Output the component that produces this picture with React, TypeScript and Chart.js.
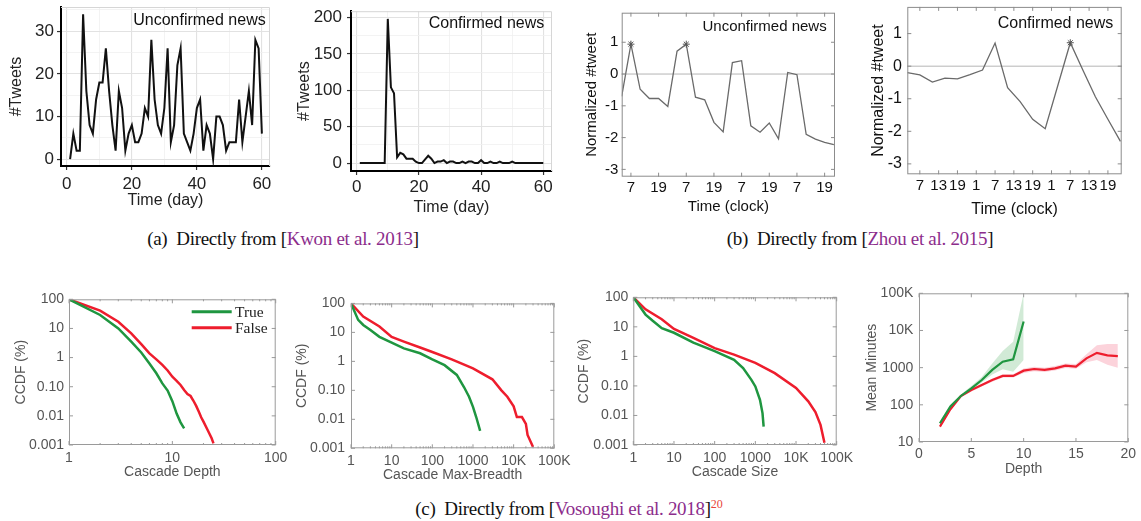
import React, { useEffect, useRef } from "react";
import { Chart, registerables } from "chart.js";

Chart.register(...registerables);

const SANS = '"Liberation Sans", Arial, Helvetica, sans-serif';
const SERIF = '"Liberation Serif", "Times New Roman", serif';

// ---------- (a) Kwon et al. 2013 ----------
const days = [1,2,3,4,5,6,7,8,9,10,11,12,13,14,15,16,17,18,19,20,21,22,23,24,25,26,27,28,29,30,31,32,33,34,35,36,37,38,39,40,41,42,43,44,45,46,47,48,49,50,51,52,53,54,55,56,57,58,59,60];
const unconfirmedTweets = [0,6,2,2,34,16,8,6,14,18,18,26,16,8,2,16,12,2,6,8,4,4,6,12,10,28,14,8,6,12,26,4,8,22,26,6,4,2,6,12,14,2,8,6,0,10,10,8,2,4,4,4,14,4,10,16,8,28,26,6];
const confirmedTweets = [0,0,0,0,0,0,0,0,0,198,104,96,8,14,12,6,6,6,2,0,0,5,10,6,0,2,2,4,0,2,2,0,0,2,0,2,2,0,0,4,0,0,2,0,0,2,0,0,0,2,0,0,0,0,0,0,0,0,0,0];
const dayTicks = [0, 20, 40, 60];
const dayMinorTicks = [10, 30, 50];
const unconfTweetTicks = [0, 10, 20, 30];
const unconfTweetMinor = [5, 15, 25, 35];
const confTweetTicks = [0, 50, 100, 150, 200];
const confTweetMinor = [25, 75, 125, 175];

// ---------- (b) Zhou et al. 2015 ----------
const unconfHours = [3,7,11,15,19,23,27,31,35,39,43,47,51,55,59,63,67,71,75,79,83,87,91,95];
const unconfNorm = [-0.7,0.94,-0.48,-0.77,-0.77,-1.02,0.72,0.94,-0.73,-0.81,-1.52,-1.82,0.36,0.42,-1.63,-1.83,-1.54,-2.04,0.05,-0.02,-1.9,-2.05,-2.15,-2.22];
const unconfStars = [1, 7];
const confHours = [3,7,11,15,19,23,27,31,35,39,43,47,51,55,59,63,67,71];
const confNorm = [-0.2,-0.27,-0.49,-0.37,-0.39,-0.26,-0.12,0.71,-0.66,-1.09,-1.63,-1.92,-0.6,0.72,-0.12,-0.94,-1.63,-2.31];
const confStars = [13];
const unconfClockTicks = [7,19,31,43,55,67,79,91];
const confClockTicks = [7,13,19,25,31,37,43,49,55,61,67];
const normTicks = [-3,-2,-1,0,1];

// ---------- (c) Vosoughi et al. 2018 ----------
const depthTrueX = [1,2,3,4,5,6,7,8,9,10,11,12,13];
const depthTrueY = [100,29,10,3.5,1.5,0.63,0.29,0.13,0.074,0.032,0.012,0.006,0.0037];
const depthFalseX = [1,2,3,4,5,6,7,8,9,10,11,12,13,14,15,16,17,18,19,20,22,24,25];
const depthFalseY = [100,41,17,6.8,2.9,1.4,0.87,0.56,0.36,0.22,0.16,0.115,0.077,0.056,0.048,0.033,0.022,0.014,0.0089,0.0063,0.0032,0.0017,0.00114];

const breadthTrueX = [1,1.5,2,3,5,10,20,50,100,200,400,600,800,1000,1200,1500];
const breadthTrueY = [100,27,18,12,7,4.4,2.8,1.9,1.17,0.74,0.34,0.13,0.06,0.027,0.012,0.004];
const breadthFalseX = [1,2,5,10,20,50,100,300,1000,3000,5000,7000,10000,12000,16000,20000,22000,30000];
const breadthFalseY = [100,35,16,7,4.8,3,2.1,1.17,0.57,0.24,0.1,0.06,0.028,0.012,0.012,0.007,0.0029,0.0011];

const sizeTrueX = [1,2,3,5,10,30,100,300,500,800,1000,1300,1500,1600];
const sizeTrueY = [100,26,16,9,6.3,2.9,1.5,0.77,0.4,0.16,0.096,0.034,0.012,0.0042];
const sizeFalseX = [1,2,5,10,30,100,300,1000,3000,10000,20000,30000,40000,50000];
const sizeFalseY = [100,39,18,8.5,4.2,1.9,1.15,0.6,0.27,0.085,0.03,0.013,0.0048,0.0012];

const depthsTrue = [2,3,4,5,6,7,8,9,10];
const minutesTrue = [32,90,173,277,465,870,1450,1670,17400];
const minutesTrueLow = [28,80,160,250,400,650,900,780,1600];
const minutesTrueHigh = [36,100,190,320,560,1300,2800,5000,100000];
const depthsFalse = [2,3,4,5,6,7,8,9,10,11,12,13,14,15,16,17,18,19];
const minutesFalse = [26,76,173,250,340,465,600,600,830,920,870,960,1130,1070,1780,2500,2150,2050];
const minutesFalseLow = [24,70,160,230,310,420,540,540,720,800,760,840,980,930,1400,1600,1200,1000];
const minutesFalseHigh = [28,82,186,270,370,510,660,660,950,1050,1000,1100,1300,1250,2300,4000,4300,4300];

const ccdfTicks = [0.001, 0.01, 0.1, 1, 10, 100];
const ccdfTickLabels = ["0.001", "0.01", "0.10", "1", "10", "100"];
const depthLogTicks = [1, 10, 100];
const depthLogLabels = ["1", "10", "100"];
const countTicks = [1, 10, 100, 1000, 10000, 100000];
const countTickLabels = ["1", "10", "100", "1000", "10K", "100K"];
const depthLinTicks = [0, 5, 10, 15, 20];
const minuteTicks = [10, 100, 1000, 10000, 100000];
const minuteTickLabels = ["10", "100", "1000", "10K", "100K"];

const GREEN = "#1f9640";
const RED = "#ee1d2d";

// ---------- helpers ----------
const pts = (xs: number[], ys: number[]) => xs.map((x, i) => ({ x, y: ys[i] }));
const lookup = (ticks: number[], labels: string[]) => (v: number) => {
  const i = ticks.findIndex((t) => Math.abs(t - v) <= 1e-9 * Math.max(1, Math.abs(t)));
  return i >= 0 ? labels[i] : "";
};
const logMinor = (ticks: number[]) => {
  const out: number[] = [];
  for (let i = 0; i < ticks.length - 1; i++) for (let k = 2; k <= 9; k++) out.push(ticks[i] * k);
  return out;
};

type Rect = { l: number; t: number; r: number; b: number };
interface AxisSpec {
  type: "linear" | "logarithmic";
  min: number;
  max: number;
  major: number[];
  minor?: number[];
  label: (v: number) => string;
  title: string;
}
interface Spec {
  plot: Rect;
  yTitleX: number;
  yLabelRight: number;
  xLabelY: number;
  xTitleY: number;
  tickSize: number;
  xTickSize?: number;
  titleSize: number;
  textColor: string;
  style: "gg" | "box";
  frameColor: string;
  x: AxisSpec;
  y: AxisSpec;
  datasets: any[];
  zeroLine?: string;
  xMinorMarks?: number[];
  annot?: { text: string; x: number; y: number; size: number; color: string };
  legend?: { x1: number; x2: number; tx: number; items: { label: string; color: string; y: number }[]; size: number };
}

function geometry(s: Spec) {
  const tLeft = s.yTitleX - 0.6 * s.titleSize;
  const left = Math.floor(tLeft);
  const top = Math.floor(s.plot.t - 14);
  const right = Math.ceil(s.plot.r + 26);
  const tBottom = s.xTitleY + 0.6 * s.titleSize;
  const bottom = Math.ceil(tBottom);
  return { left, top, right, bottom, w: right - left, h: bottom - top, yTitlePad: tLeft - left, xTitlePad: bottom - tBottom };
}

function makeDeco(s: Spec, g: ReturnType<typeof geometry>) {
  return {
    id: "deco",
    beforeDatasetsDraw(chart: any) {
      const { ctx, chartArea: a } = chart;
      ctx.save();
      if (s.zeroLine) {
        const y = chart.scales.y.getPixelForValue(0);
        ctx.strokeStyle = s.zeroLine;
        ctx.lineWidth = 1;
        ctx.beginPath();
        ctx.moveTo(a.left, y);
        ctx.lineTo(a.right, y);
        ctx.stroke();
      }
      if (s.style === "gg") {
        ctx.strokeStyle = s.frameColor;
        ctx.lineWidth = 1;
        ctx.beginPath();
        ctx.moveTo(a.left, a.top + 0.5);
        ctx.lineTo(a.right - 0.5, a.top + 0.5);
        ctx.lineTo(a.right - 0.5, a.bottom);
        ctx.stroke();
      }
      ctx.restore();
    },
    afterDatasetsDraw(chart: any) {
      const { ctx, chartArea: a, scales } = chart;
      ctx.save();
      if (s.style === "box") {
        ctx.strokeStyle = s.frameColor;
        ctx.lineWidth = 1;
        ctx.strokeRect(a.left + 0.5, a.top + 0.5, a.right - a.left - 1, a.bottom - a.top - 1);
        const len = 4;
        ctx.beginPath();
        s.x.major.forEach((v) => {
          const x = scales.x.getPixelForValue(v);
          if (x < a.left - 0.5 || x > a.right + 0.5) return;
          ctx.moveTo(x, a.bottom);
          ctx.lineTo(x, a.bottom - len);
          ctx.moveTo(x, a.top);
          ctx.lineTo(x, a.top + len);
        });
        (s.xMinorMarks || []).forEach((v) => {
          const x = scales.x.getPixelForValue(v);
          if (x < a.left || x > a.right) return;
          ctx.moveTo(x, a.bottom);
          ctx.lineTo(x, a.bottom - 2);
          ctx.moveTo(x, a.top);
          ctx.lineTo(x, a.top + 2);
        });
        s.y.major.forEach((v) => {
          const y = scales.y.getPixelForValue(v);
          if (y < a.top - 0.5 || y > a.bottom + 0.5) return;
          ctx.moveTo(a.left, y);
          ctx.lineTo(a.left + len, y);
          ctx.moveTo(a.right, y);
          ctx.lineTo(a.right - len, y);
        });
        ctx.stroke();
      }
      if (s.annot) {
        ctx.font = `${s.annot.size}px ${SANS}`;
        ctx.fillStyle = s.annot.color;
        ctx.textAlign = "right";
        ctx.textBaseline = "middle";
        ctx.fillText(s.annot.text, s.annot.x - g.left, s.annot.y - g.top);
      }
      if (s.legend) {
        const L = s.legend;
        L.items.forEach((it) => {
          ctx.strokeStyle = it.color;
          ctx.lineWidth = 3;
          ctx.beginPath();
          ctx.moveTo(L.x1 - g.left, it.y - g.top);
          ctx.lineTo(L.x2 - g.left, it.y - g.top);
          ctx.stroke();
          ctx.font = `${L.size}px ${SERIF}`;
          ctx.fillStyle = "#222";
          ctx.textAlign = "left";
          ctx.textBaseline = "middle";
          ctx.fillText(it.label, L.tx - g.left, it.y - g.top + 1);
        });
      }
      ctx.restore();
    },
  };
}

function buildConfig(s: Spec, g: ReturnType<typeof geometry>): any {
  const gg = s.style === "gg";
  const tl = gg ? 4 : 0;
  const xTick = s.xTickSize || s.tickSize;
  const tickFont = { family: SANS, size: s.tickSize };
  const xTickFont = { family: SANS, size: xTick };
  const titleFont = { family: SANS, size: s.titleSize };
  const allX = [...s.x.major, ...(s.x.minor || [])].sort((p, q) => p - q);
  const allY = [...s.y.major, ...(s.y.minor || [])].sort((p, q) => p - q);
  const isMaj = (list: number[]) => (v: number) => list.some((t) => Math.abs(t - v) <= 1e-9 * Math.max(1, Math.abs(t)));
  const majX = isMaj(s.x.major);
  const majY = isMaj(s.y.major);
  const grid = (maj: (v: number) => boolean) =>
    gg
      ? {
          display: true,
          drawOnChartArea: true,
          drawTicks: true,
          tickLength: 4,
          color: (c: any) => (c.tick && maj(c.tick.value) ? "#e2e2e2" : "#f0f0f0"),
          lineWidth: (c: any) => (c.tick && maj(c.tick.value) ? 1.1 : 0.8),
          tickColor: (c: any) => (c.tick && maj(c.tick.value) ? "#333" : "rgba(0,0,0,0)"),
          tickWidth: 1.2,
        }
      : { display: false, drawTicks: false, tickLength: 0 };
  const border = gg ? { display: true, color: "#000", width: 2 } : { display: false };
  return {
    type: "line",
    data: { datasets: s.datasets },
    options: {
      responsive: false,
      animation: false,
      events: [],
      layout: { padding: { left: 0, bottom: 0, top: s.plot.t - g.top, right: g.right - s.plot.r } },
      plugins: { legend: { display: false }, tooltip: { enabled: false } },
      elements: { point: { radius: 0, hitRadius: 0 }, line: { tension: 0 } },
      scales: {
        x: {
          type: s.x.type,
          position: "bottom",
          min: s.x.min,
          max: s.x.max,
          afterBuildTicks: (sc: any) => {
            sc.ticks = allX.map((v) => ({ value: v }));
          },
          afterFit: (sc: any) => {
            sc.height = g.bottom - s.plot.b;
          },
          ticks: {
            autoSkip: false,
            maxRotation: 0,
            minRotation: 0,
            font: xTickFont,
            color: s.textColor,
            padding: s.xLabelY - s.plot.b - tl - 0.6 * xTick,
            callback: (v: number) => (majX(v) ? s.x.label(v) : ""),
          },
          grid: grid(majX),
          border,
          title: { display: true, text: s.x.title, font: titleFont, color: s.textColor, padding: { top: 0, bottom: g.xTitlePad } },
        },
        y: {
          type: s.y.type,
          position: "left",
          min: s.y.min,
          max: s.y.max,
          afterBuildTicks: (sc: any) => {
            sc.ticks = allY.map((v) => ({ value: v }));
          },
          afterFit: (sc: any) => {
            sc.width = s.plot.l - g.left;
          },
          ticks: {
            autoSkip: false,
            font: tickFont,
            color: s.textColor,
            padding: s.plot.l - tl - s.yLabelRight,
            callback: (v: number) => (majY(v) ? s.y.label(v) : ""),
          },
          grid: grid(majY),
          border,
          title: { display: true, text: s.y.title, font: titleFont, color: s.textColor, padding: { top: g.yTitlePad, bottom: 0 } },
        },
      },
    },
    plugins: [makeDeco(s, g)],
  };
}

function Plot({ spec }: { spec: Spec }) {
  const ref = useRef<HTMLCanvasElement>(null);
  const g = geometry(spec);
  useEffect(() => {
    if (!ref.current) return;
    const chart = new Chart(ref.current, buildConfig(spec, g));
    return () => chart.destroy();
  }, []);
  return (
    <canvas
      ref={ref}
      width={g.w}
      height={g.h}
      style={{ position: "absolute", left: g.left, top: g.top, width: g.w, height: g.h }}
    />
  );
}

const lineDs = (xs: number[], ys: number[], color: string, width: number, extra: any = {}) => ({
  data: pts(xs, ys),
  borderColor: color,
  borderWidth: width,
  pointRadius: 0,
  fill: false,
  ...extra,
});

const starDs = (xs: number[], ys: number[], stars: number[]) =>
  lineDs(xs, ys, "#6a6a6a", 1.3, {
    pointStyle: "star",
    pointRadius: xs.map((_, i) => (stars.includes(i) ? 3.5 : 0)),
    pointBorderColor: "#555",
    pointBorderWidth: 1,
    pointBackgroundColor: "#555",
  });

const specs: Spec[] = [
  {
    plot: { l: 61, t: 7, r: 270, b: 166 },
    yTitleX: 17, yLabelRight: 54, xLabelY: 184, xTitleY: 201,
    tickSize: 17, titleSize: 16, textColor: "#222", style: "gg", frameColor: "#d6d6d6",
    x: { type: "linear", min: -1.8, max: 62.5, major: dayTicks, minor: dayMinorTicks, label: (v) => String(v), title: "Time (day)" },
    y: { type: "linear", min: -1.6, max: 35.7, major: unconfTweetTicks, minor: unconfTweetMinor, label: (v) => String(v), title: "#Tweets" },
    datasets: [lineDs(days, unconfirmedTweets, "#111", 2)],
    annot: { text: "Unconfirmed news", x: 265.7, y: 20.7, size: 16, color: "#111" },
  },
  {
    plot: { l: 351, t: 10, r: 552, b: 171 },
    yTitleX: 305, yLabelRight: 342, xLabelY: 187.3, xTitleY: 207.3,
    tickSize: 17, titleSize: 16, textColor: "#222", style: "gg", frameColor: "#d6d6d6",
    x: { type: "linear", min: -1.83, max: 62.8, major: dayTicks, minor: dayMinorTicks, label: (v) => String(v), title: "Time (day)" },
    y: { type: "linear", min: -10.9, max: 208.6, major: confTweetTicks, minor: confTweetMinor, label: (v) => String(v), title: "#Tweets" },
    datasets: [lineDs(days, confirmedTweets, "#111", 2)],
    annot: { text: "Confirmed news", x: 544.3, y: 24, size: 16, color: "#111" },
  },
  {
    plot: { l: 621.7, t: 12.7, r: 835, b: 176.7 },
    yTitleX: 591.7, yLabelRight: 618.3, xLabelY: 188.3, xTitleY: 206.7,
    tickSize: 15, titleSize: 15, textColor: "#111", style: "box", frameColor: "#8c8c8c",
    x: { type: "linear", min: 3, max: 95.5, major: unconfClockTicks, label: (v) => String(v % 24), title: "Time (clock)" },
    y: { type: "linear", min: -3.23, max: 1.93, major: normTicks, label: (v) => String(v), title: "Normalized #tweet" },
    datasets: [starDs(unconfHours, unconfNorm, unconfStars)],
    zeroLine: "#b5b5b5",
    annot: { text: "Unconfirmed news", x: 826.7, y: 26.7, size: 15, color: "#111" },
  },
  {
    plot: { l: 907.3, t: 6.7, r: 1121.7, b: 174.3 },
    yTitleX: 878.3, yLabelRight: 902, xLabelY: 186, xTitleY: 210,
    tickSize: 16, xTickSize: 15, titleSize: 16, textColor: "#111", style: "box", frameColor: "#8c8c8c",
    x: { type: "linear", min: 3, max: 71.4, major: confClockTicks, label: (v) => String(v % 24), title: "Time (clock)" },
    y: { type: "linear", min: -3.32, max: 1.82, major: normTicks, label: (v) => String(v), title: "Normalized #tweet" },
    datasets: [starDs(confHours, confNorm, confStars)],
    zeroLine: "#b5b5b5",
    annot: { text: "Confirmed news", x: 1113.3, y: 24, size: 16, color: "#111" },
  },
  {
    plot: { l: 69, t: 299.3, r: 275.7, b: 445 },
    yTitleX: 20.7, yLabelRight: 64, xLabelY: 458.3, xTitleY: 472.3,
    tickSize: 14, titleSize: 14, textColor: "#555", style: "box", frameColor: "#9a9a9a",
    x: { type: "logarithmic", min: 1, max: 100, major: depthLogTicks, label: lookup(depthLogTicks, depthLogLabels), title: "Cascade Depth" },
    y: { type: "logarithmic", min: 0.001, max: 100, major: ccdfTicks, label: lookup(ccdfTicks, ccdfTickLabels), title: "CCDF (%)" },
    xMinorMarks: logMinor(depthLogTicks),
    datasets: [lineDs(depthTrueX, depthTrueY, GREEN, 2.5), lineDs(depthFalseX, depthFalseY, RED, 2.5)],
    legend: {
      x1: 191.7, x2: 231.7, tx: 235, size: 15.5,
      items: [
        { label: "True", color: GREEN, y: 311.7 },
        { label: "False", color: RED, y: 327.7 },
      ],
    },
  },
  {
    plot: { l: 351, t: 303.3, r: 554.3, b: 448.3 },
    yTitleX: 301.7, yLabelRight: 345, xLabelY: 460.7, xTitleY: 474.7,
    tickSize: 14, titleSize: 14, textColor: "#555", style: "box", frameColor: "#9a9a9a",
    x: { type: "logarithmic", min: 1, max: 100000, major: countTicks, label: lookup(countTicks, countTickLabels), title: "Cascade Max-Breadth" },
    y: { type: "logarithmic", min: 0.001, max: 100, major: ccdfTicks, label: lookup(ccdfTicks, ccdfTickLabels), title: "CCDF (%)" },
    xMinorMarks: logMinor(countTicks),
    datasets: [lineDs(breadthTrueX, breadthTrueY, GREEN, 2.5), lineDs(breadthFalseX, breadthFalseY, RED, 2.5)],
  },
  {
    plot: { l: 633.3, t: 297.3, r: 836.7, b: 445 },
    yTitleX: 584, yLabelRight: 628.3, xLabelY: 457.7, xTitleY: 472.3,
    tickSize: 14, titleSize: 14, textColor: "#555", style: "box", frameColor: "#9a9a9a",
    x: { type: "logarithmic", min: 1, max: 100000, major: countTicks, label: lookup(countTicks, countTickLabels), title: "Cascade Size" },
    y: { type: "logarithmic", min: 0.001, max: 100, major: ccdfTicks, label: lookup(ccdfTicks, ccdfTickLabels), title: "CCDF (%)" },
    xMinorMarks: logMinor(countTicks),
    datasets: [lineDs(sizeTrueX, sizeTrueY, GREEN, 2.5), lineDs(sizeFalseX, sizeFalseY, RED, 2.5)],
  },
  {
    plot: { l: 919, t: 293.3, r: 1128.3, b: 442 },
    yTitleX: 872.3, yLabelRight: 913.3, xLabelY: 454, xTitleY: 469,
    tickSize: 14, titleSize: 14, textColor: "#555", style: "box", frameColor: "#9a9a9a",
    x: { type: "linear", min: 0, max: 20, major: depthLinTicks, label: (v) => String(v), title: "Depth" },
    y: { type: "logarithmic", min: 10, max: 100000, major: minuteTicks, label: lookup(minuteTicks, minuteTickLabels), title: "Mean Minutes" },
    datasets: [
      lineDs(depthsTrue, minutesTrue, GREEN, 2.2),
      lineDs(depthsFalse, minutesFalse, RED, 2.2),
      lineDs(depthsTrue, minutesTrueHigh, "rgba(0,0,0,0)", 0, { fill: "+1", backgroundColor: "rgba(70,170,90,0.25)" }),
      lineDs(depthsTrue, minutesTrueLow, "rgba(0,0,0,0)", 0),
      lineDs(depthsFalse, minutesFalseHigh, "rgba(0,0,0,0)", 0, { fill: "+1", backgroundColor: "rgba(245,80,110,0.25)" }),
      lineDs(depthsFalse, minutesFalseLow, "rgba(0,0,0,0)", 0),
    ],
  },
];

const captionStyle: React.CSSProperties = {
  position: "absolute",
  width: 600,
  textAlign: "center",
  fontFamily: SERIF,
  fontSize: 19,
  letterSpacing: "-0.3px",
  lineHeight: "22px",
  color: "#111",
  whiteSpace: "nowrap",
};
const PURPLE = "#8c2d8c";

export default function App() {
  return (
    <div style={{ position: "absolute", left: 0, top: 0, width: 1141, height: 521, background: "#fff", overflow: "hidden" }}>
      {specs.map((s, i) => (
        <Plot key={i} spec={s} />
      ))}
      <div style={{ ...captionStyle, left: 283 - 300, top: 228 }}>
        (a)&nbsp; Directly from [<span style={{ color: PURPLE }}>Kwon et al. 2013</span>]
      </div>
      <div style={{ ...captionStyle, left: 860 - 300, top: 228 }}>
        (b)&nbsp; Directly from [<span style={{ color: PURPLE }}>Zhou et al. 2015</span>]
      </div>
      <div style={{ ...captionStyle, left: 569 - 300, top: 493 }}>
        (c)&nbsp; Directly from [<span style={{ color: PURPLE }}>Vosoughi et al. 2018</span>]
        <sup style={{ color: "#e8433a", fontSize: 12, verticalAlign: "7px", letterSpacing: 0 }}>20</sup>
      </div>
    </div>
  );
}
